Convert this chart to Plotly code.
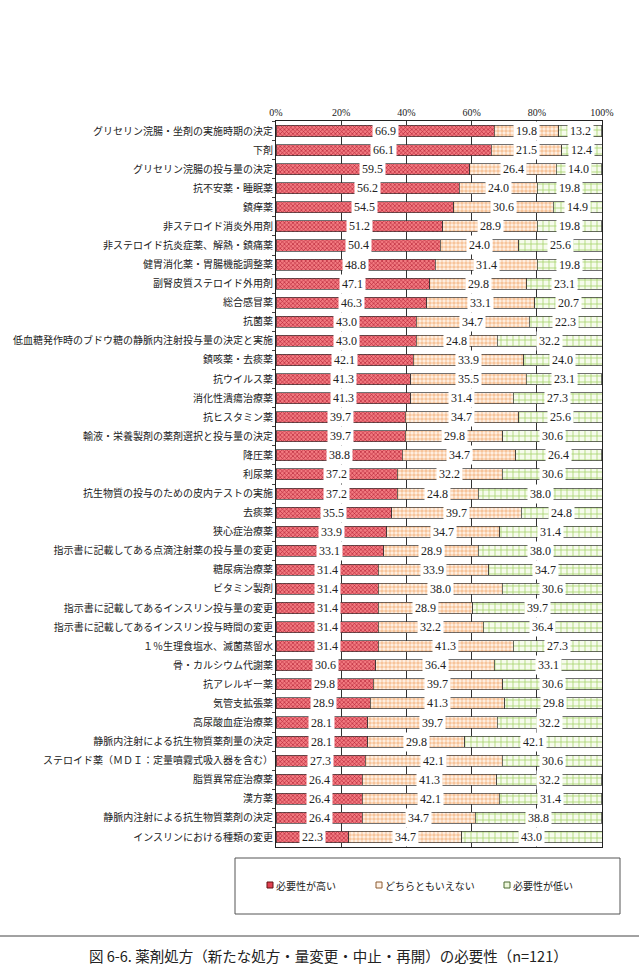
import plotly.graph_objects as go

categories = [
    "グリセリン浣腸・坐剤の実施時期の決定",
    "下剤",
    "グリセリン浣腸の投与量の決定",
    "抗不安薬・睡眠薬",
    "鎮痒薬",
    "非ステロイド消炎外用剤",
    "非ステロイド抗炎症薬、解熱・鎮痛薬",
    "健胃消化薬・胃腸機能調整薬",
    "副腎皮質ステロイド外用剤",
    "総合感冒薬",
    "抗菌薬",
    "低血糖発作時のブドウ糖の静脈内注射投与量の決定と実施",
    "鎮咳薬・去痰薬",
    "抗ウイルス薬",
    "消化性潰瘍治療薬",
    "抗ヒスタミン薬",
    "輸液・栄養製剤の薬剤選択と投与量の決定",
    "降圧薬",
    "利尿薬",
    "抗生物質の投与のための皮内テストの実施",
    "去痰薬",
    "狭心症治療薬",
    "指示書に記載してある点滴注射薬の投与量の変更",
    "糖尿病治療薬",
    "ビタミン製剤",
    "指示書に記載してあるインスリン投与量の変更",
    "指示書に記載してあるインスリン投与時間の変更",
    "１％生理食塩水、滅菌蒸留水",
    "骨・カルシウム代謝薬",
    "抗アレルギー薬",
    "気管支拡張薬",
    "高尿酸血症治療薬",
    "静脈内注射による抗生物質薬剤量の決定",
    "ステロイド薬（ＭＤＩ：定量噴霧式吸入器を含む）",
    "脂質異常症治療薬",
    "漢方薬",
    "静脈内注射による抗生物質薬剤の決定",
    "インスリンにおける種類の変更",
]

high = [66.9, 66.1, 59.5, 56.2, 54.5, 51.2, 50.4, 48.8, 47.1, 46.3,
        43.0, 43.0, 42.1, 41.3, 41.3, 39.7, 39.7, 38.8, 37.2, 37.2,
        35.5, 33.9, 33.1, 31.4, 31.4, 31.4, 31.4, 31.4, 30.6, 29.8,
        28.9, 28.1, 28.1, 27.3, 26.4, 26.4, 26.4, 22.3]
mid = [19.8, 21.5, 26.4, 24.0, 30.6, 28.9, 24.0, 31.4, 29.8, 33.1,
       34.7, 24.8, 33.9, 35.5, 31.4, 34.7, 29.8, 34.7, 32.2, 24.8,
       39.7, 34.7, 28.9, 33.9, 38.0, 28.9, 32.2, 41.3, 36.4, 39.7,
       41.3, 39.7, 29.8, 42.1, 41.3, 42.1, 34.7, 34.7]
low = [13.2, 12.4, 14.0, 19.8, 14.9, 19.8, 25.6, 19.8, 23.1, 20.7,
       22.3, 32.2, 24.0, 23.1, 27.3, 25.6, 30.6, 26.4, 30.6, 38.0,
       24.8, 31.4, 38.0, 34.7, 30.6, 39.7, 36.4, 27.3, 33.1, 30.6,
       29.8, 32.2, 42.1, 30.6, 32.2, 31.4, 38.8, 43.0]

series_names = ["必要性が高い", "どちらともいえない", "必要性が低い"]
tick_vals = [0, 20, 40, 60, 80, 100]
tick_text = ["0%", "20%", "40%", "60%", "80%", "100%"]
caption = "図 6-6. 薬剤処方（新たな処方・量変更・中止・再開）の必要性（n=121）"

W, H = 639, 971
L, R, T, B = 276, 37, 121, 124
PW, PH = W - L - R, H - T - B


def px(x):
    return (x - L) / PW


def py(y):
    return (H - B - y) / PH


styles = [
    dict(bgcolor="#f27a80", fgcolor="#b01c30", shape="x", size=3, solidity=0.35),
    dict(bgcolor="#fff3e8", fgcolor="#f7c49a", shape=".", size=4, solidity=0.6),
    dict(bgcolor="#f6fbec", fgcolor="#a6d36a", shape="+", size=6, solidity=0.25),
]

fig = go.Figure()
for name, vals, st in zip(series_names, [high, mid, low], styles):
    fig.add_trace(go.Bar(
        y=categories, x=vals, orientation="h", name=name,
        marker=dict(color=st["bgcolor"], line=dict(color="#333333", width=0.7),
                    pattern=dict(shape=st["shape"], bgcolor=st["bgcolor"],
                                 fgcolor=st["fgcolor"], size=st["size"],
                                 solidity=st["solidity"], fillmode="replace")),
        showlegend=False,
    ))

annotations = []
for i, cat in enumerate(categories):
    start = 0.0
    for vals in (high, mid, low):
        v = vals[i]
        annotations.append(dict(
            x=start + v / 2, y=cat, xref="x", yref="y", text=f"{v:.1f}",
            showarrow=False, bgcolor="white", borderpad=2,
            font=dict(family="Liberation Serif", size=12, color="#222222"),
        ))
        start += v

# legend (manual)
shapes = [
    dict(type="rect", xref="paper", yref="paper", x0=px(235), x1=px(620),
         y0=py(914), y1=py(858), line=dict(color="#555555", width=1),
         fillcolor="white"),
    dict(type="line", xref="paper", yref="paper", x0=px(0), x1=px(639),
         y0=py(936), y1=py(936), line=dict(color="#444444", width=1)),
]
legend_items = [(270, "#e04050", "#601010"), (379, "#fff3e8", "#8a5a30"),
                (507, "#eef7dc", "#4a6a30")]
for (lx, fc, lc), name in zip(legend_items, series_names):
    shapes.append(dict(type="rect", xref="paper", yref="paper",
                       x0=px(lx - 3), x1=px(lx + 3), y0=py(888), y1=py(882),
                       fillcolor=fc, line=dict(color=lc, width=1)))
    annotations.append(dict(x=px(lx + 4), y=py(885), xref="paper", yref="paper",
                            xanchor="left", yanchor="middle", text=name,
                            showarrow=False,
                            font=dict(family="Noto Sans CJK JP", size=10,
                                      color="#222222")))

annotations.append(dict(x=px(328), y=py(955), xref="paper", yref="paper",
                        xanchor="center", yanchor="middle", text=caption,
                        showarrow=False,
                        font=dict(family="Noto Sans CJK JP", size=14.5,
                                  color="#222222")))

fig.update_layout(
    width=W, height=H, margin=dict(l=L, r=R, t=T, b=B),
    paper_bgcolor="white", plot_bgcolor="white",
    barmode="stack", bargap=0.42,
    annotations=annotations, shapes=shapes,
    xaxis=dict(range=[0, 100], side="top", tickvals=tick_vals,
               ticktext=tick_text, showgrid=True, gridcolor="#333333",
               gridwidth=1, showline=True, linecolor="#222222", linewidth=1,
               mirror=True, zeroline=False, ticks="",
               tickfont=dict(family="Liberation Serif", size=10, color="#222222")),
    yaxis=dict(type="category", autorange="reversed", showline=True,
               linecolor="#222222", linewidth=1, mirror=True, ticks="outside",
               tickson="boundaries", ticklen=3, tickcolor="#444444",
               showgrid=False,
               tickfont=dict(family="Noto Sans CJK JP", size=10, color="#222222")),
    font=dict(family="Noto Sans CJK JP"),
)

fig.write_html("out.html")
